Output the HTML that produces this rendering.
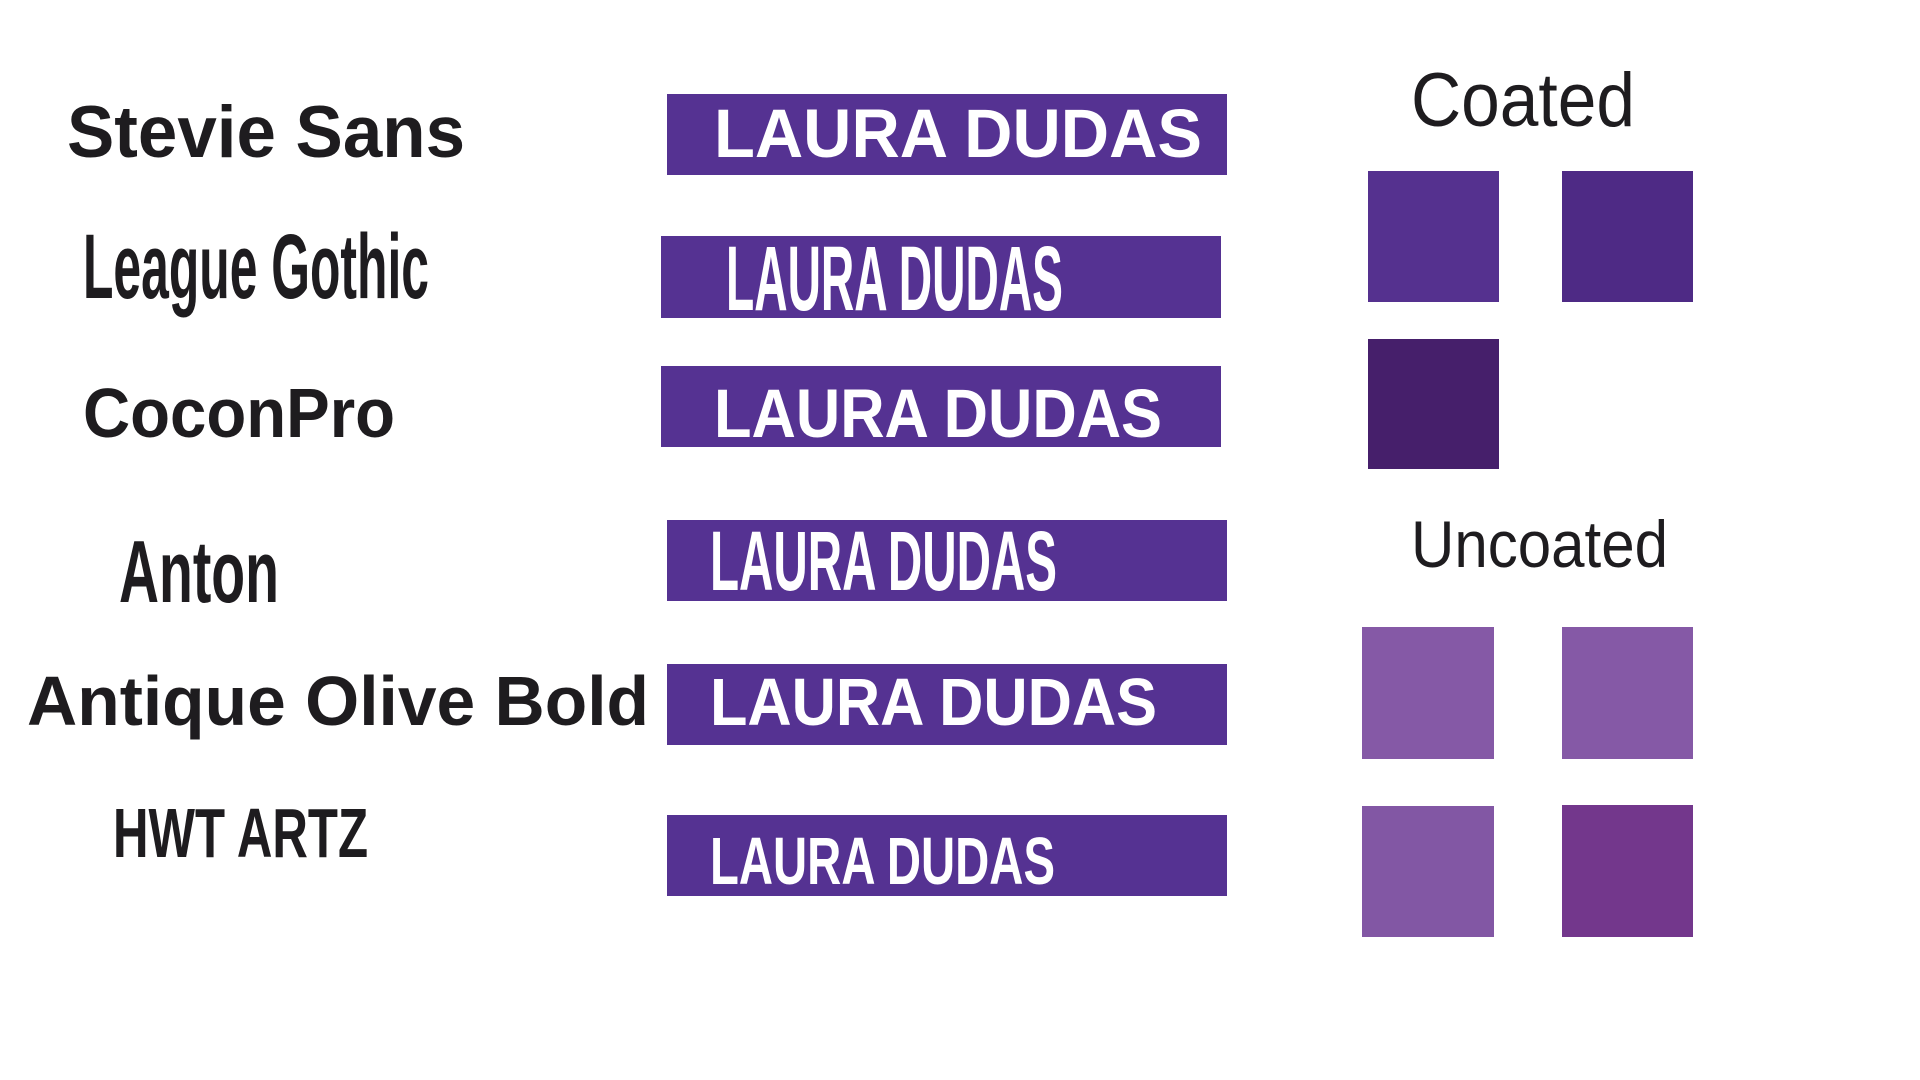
<!DOCTYPE html>
<html><head><meta charset="utf-8"><title>Typography and colour swatches</title>
<style>
html,body{margin:0;padding:0;background:#fff;width:1920px;height:1080px;overflow:hidden}
svg{display:block}
text{font-family:"Liberation Sans",sans-serif}
</style></head>
<body>
<svg width="1920" height="1080" viewBox="0 0 1920 1080">
  <!-- left font names -->
  <g fill="#1e1c1f" font-weight="bold">
    <text x="67" y="157" font-size="73" textLength="398" lengthAdjust="spacingAndGlyphs">Stevie Sans</text>
    <text x="83" y="298" font-size="92" textLength="346" lengthAdjust="spacingAndGlyphs">League Gothic</text>
    <text x="83" y="437" font-size="70" textLength="312" lengthAdjust="spacingAndGlyphs">CoconPro</text>
    <text x="119" y="602" font-size="88" textLength="160" lengthAdjust="spacingAndGlyphs">Anton</text>
    <text x="27" y="725" font-size="70" textLength="622" lengthAdjust="spacingAndGlyphs">Antique Olive Bold</text>
    <text x="113" y="857" font-size="70" textLength="255" lengthAdjust="spacingAndGlyphs">HWT ARTZ</text>
  </g>
  <!-- bars -->
  <g fill="#553292">
    <rect x="667" y="94" width="560" height="81"/>
    <rect x="661" y="236" width="560" height="82"/>
    <rect x="661" y="366" width="560" height="81"/>
    <rect x="667" y="520" width="560" height="81"/>
    <rect x="667" y="664" width="560" height="81"/>
    <rect x="667" y="815" width="560" height="81"/>
  </g>
  <g fill="#ffffff" font-weight="bold">
    <text x="714" y="157" font-size="69" textLength="488" lengthAdjust="spacingAndGlyphs">LAURA DUDAS</text>
    <text x="726" y="310" font-size="92" textLength="337" lengthAdjust="spacingAndGlyphs">LAURA DUDAS</text>
    <text x="714" y="437" font-size="69" textLength="448" lengthAdjust="spacingAndGlyphs">LAURA DUDAS</text>
    <text x="710" y="590" font-size="84" textLength="347" lengthAdjust="spacingAndGlyphs">LAURA DUDAS</text>
    <text x="710" y="725" font-size="67" textLength="447" lengthAdjust="spacingAndGlyphs">LAURA DUDAS</text>
    <text x="710" y="884" font-size="67" textLength="345" lengthAdjust="spacingAndGlyphs">LAURA DUDAS</text>
  </g>
  <!-- swatches -->
  <text x="1411" y="126" font-size="76" fill="#1e1c1f" textLength="224" lengthAdjust="spacingAndGlyphs">Coated</text>
  <rect x="1368" y="171" width="131" height="131" fill="#55318f"/>
  <rect x="1562" y="171" width="131" height="131" fill="#4e2a85"/>
  <rect x="1368" y="339" width="131" height="130" fill="#461f6b"/>
  <text x="1411" y="567" font-size="66" fill="#1e1c1f" textLength="257" lengthAdjust="spacingAndGlyphs">Uncoated</text>
  <rect x="1362" y="627" width="132" height="132" fill="#8559a6"/>
  <rect x="1562" y="627" width="131" height="132" fill="#8559a6"/>
  <rect x="1362" y="806" width="132" height="131" fill="#8257a4"/>
  <rect x="1562" y="805" width="131" height="132" fill="#73378c"/>
</svg>
</body></html>
